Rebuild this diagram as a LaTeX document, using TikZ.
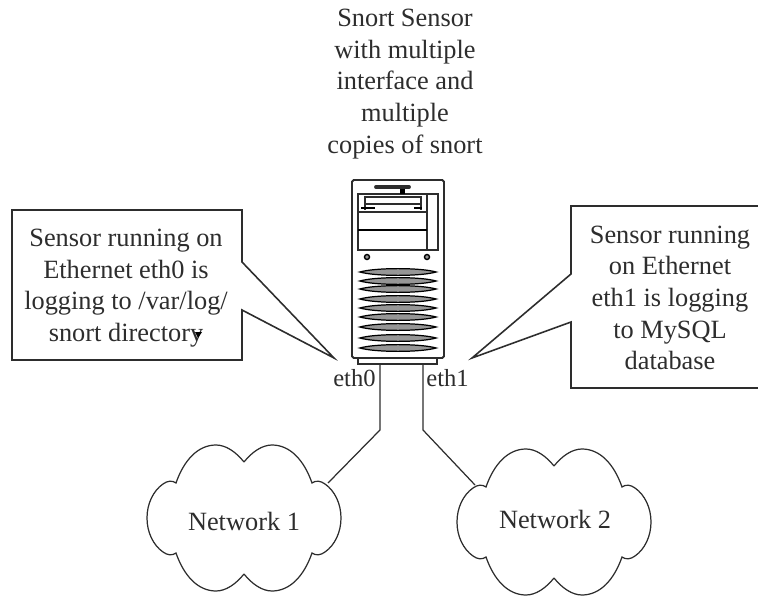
\documentclass[tikz,border=0pt]{standalone}
\usepackage{fontspec}
\setmainfont{Liberation Serif}
\definecolor{inkgray}{RGB}{45, 45, 45}
\definecolor{ventgray}{RGB}{150, 150, 150}
\tikzset{
  netcloud/.pic={
    \foreach \sx/\sy in {1/1,-1/1,1/-1,-1/-1}
      \draw[inkgray, line width=0.7pt, xscale=\sx, yscale=\sy]
        (0,-56) .. controls (8,-66) and (18,-73) .. (28,-73)
        .. controls (46,-73) and (60,-58) .. (68,-35)
        .. controls (72,-38) and (77,-37) .. (81,-34)
        .. controls (91,-27) and (97,-14) .. (97,0);
  }
}
\begin{document}
\begin{tikzpicture}[x=0.02cm, y=-0.02cm,
  txt/.style={inkgray, align=center, inner sep=0pt, font=\fontsize{15}{18}\selectfont},
  lbl/.style={inkgray, inner sep=0pt, font=\fontsize{14}{16}\selectfont},
  wire/.style={inkgray, line width=0.7pt},
  case/.style={inkgray, line width=0.9pt},
  vent/.style={fill=ventgray, draw=black, line width=0.7pt},
]
\useasboundingbox (0,0) rectangle (758,598);

% Title
\node[txt] (title) at (405,84) {Snort Sensor\\with multiple\\interface and\\multiple\\copies of snort};

% Left callout
\draw[case] (12,210) -- (242,210) -- (242,262) -- (334,358) -- (242,310) -- (242,360) -- (12,360) -- cycle;
\node[txt] (left) at (126,288) {Sensor running on\\Ethernet eth0 is\\logging to /var/log/\\snort directory};
\fill[black] (195,332) -- (202,332) -- (198,338) -- cycle;

% Right callout
\draw[case] (758,206) -- (571,206) -- (571,274) -- (472,358) -- (571,322) -- (571,388) -- (758,388);
\node[txt] (right) at (670,298) {Sensor running\\on Ethernet\\eth1 is logging\\to MySQL\\database};

% Server case
\node[draw=inkgray, line width=1.1pt, rounded corners=1pt, minimum width=1.84cm, minimum height=3.56cm,
      inner sep=0pt] (server) at (398,269) {};
\draw[case] (358,358) -- (358,364) -- (437,364) -- (437,358);

% Drive bays
\draw[inkgray, line width=1.1pt] (358,194) rectangle (438,250);
\draw[case] (427,194) -- (427,250);
\draw[case] (358,212) -- (427,212);
\draw[black, line width=0.7pt] (358,230) -- (427,230);
\draw[wire] (365,197) rectangle (421,204);
\draw[wire] (365,204) -- (365,210);
\draw[wire] (421,204) -- (421,210);
\draw[black, line width=1pt] (361,208) -- (375,208);
\draw[black, line width=1pt] (414,208) -- (422,208);

% Latch
\draw[inkgray, line width=2.2pt, line cap=round] (376,187) -- (409,187);
\fill[black] (400,189) rectangle (405,194);

% Buttons
\foreach \bx in {367,427}
  \draw[vent, line width=0.8pt] (\bx,257) circle (2.5);

% Vents
\foreach \vy in {272,281,289,299,308,317,327,338,348}
  \draw[vent] (360,\vy) .. controls (375,\vy-4.5) and (421,\vy-4.5) .. (436,\vy)
    .. controls (421,\vy+4.5) and (375,\vy+4.5) .. (360,\vy) -- cycle;

% Ports
\node[lbl, anchor=east] (eth0) at (376,378) {eth0};
\node[lbl, anchor=west] (eth1) at (426,378) {eth1};

% Clouds
\pic at (244,518) {netcloud};
\node[txt] (net1) at (244,521) {Network 1};
\pic at (554,522) {netcloud};
\node[txt] (net2) at (555,519) {Network 2};

% Links
\coordinate (port0) at (380,364);
\coordinate (bend0) at (380,430);
\coordinate (edge1) at (328,483);
\coordinate (port1) at (423,364);
\coordinate (bend1) at (423,430);
\coordinate (edge2) at (475,485);
\draw[wire] (port0) -- (bend0) -- (edge1);
\draw[wire] (port1) -- (bend1) -- (edge2);
\end{tikzpicture}
\end{document}
